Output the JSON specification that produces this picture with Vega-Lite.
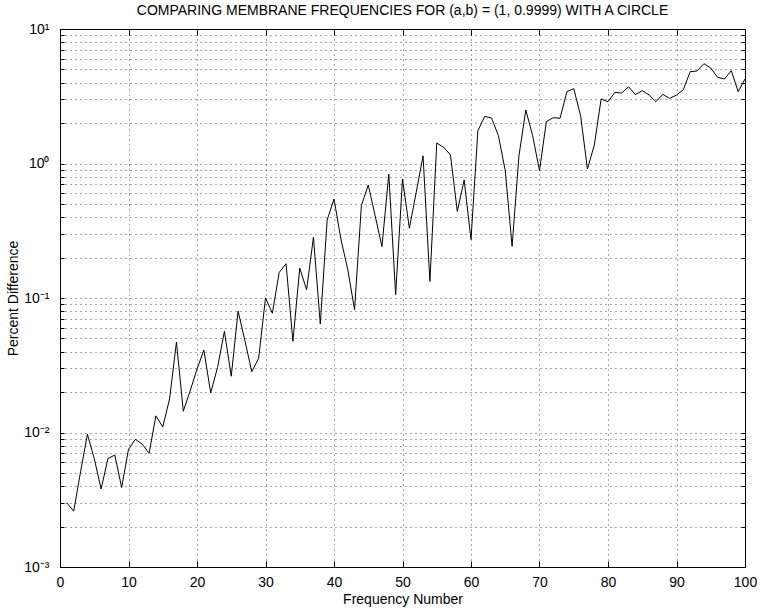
{
  "$schema": "https://vega.github.io/schema/vega-lite/v6.json",
  "width": 685,
  "height": 538,
  "autosize": {"type": "none"},
  "padding": {"left": 60, "top": 29, "right": 17, "bottom": 47},
  "background": "white",
  "title": {"text": "COMPARING MEMBRANE FREQUENCIES FOR (a,b) = (1, 0.9999) WITH A CIRCLE", "font": "Liberation Sans", "fontSize": 14, "fontWeight": "normal", "color": "black", "offset": 4, "anchor": "middle"},
  "config": {
    "view": {"stroke": "black", "strokeWidth": 1},
    "axis": {"labelFont": "Liberation Sans", "titleFont": "Liberation Sans", "labelFontSize": 14, "titleFontSize": 14, "titleFontWeight": "normal", "labelColor": "black", "titleColor": "black", "domain": false, "tickColor": "black", "gridColor": "black", "gridDash": [1, 4], "gridOpacity": 0.7}
  },
  "data": {"values": [
    {"n": 1, "p": 0.0030}, {"n": 2, "p": 0.0026}, {"n": 3, "p": 0.0051}, {"n": 4, "p": 0.0097}, {"n": 5, "p": 0.0064},
    {"n": 6, "p": 0.0038}, {"n": 7, "p": 0.0064}, {"n": 8, "p": 0.0068}, {"n": 9, "p": 0.0039}, {"n": 10, "p": 0.0075},
    {"n": 11, "p": 0.0089}, {"n": 12, "p": 0.0082}, {"n": 13, "p": 0.0070}, {"n": 14, "p": 0.0133}, {"n": 15, "p": 0.0110},
    {"n": 16, "p": 0.0178}, {"n": 17, "p": 0.047}, {"n": 18, "p": 0.0144}, {"n": 19, "p": 0.0204}, {"n": 20, "p": 0.0296},
    {"n": 21, "p": 0.041}, {"n": 22, "p": 0.0197}, {"n": 23, "p": 0.0305}, {"n": 24, "p": 0.0565}, {"n": 25, "p": 0.0262},
    {"n": 26, "p": 0.080}, {"n": 27, "p": 0.048}, {"n": 28, "p": 0.0283}, {"n": 29, "p": 0.0357}, {"n": 30, "p": 0.100},
    {"n": 31, "p": 0.077}, {"n": 32, "p": 0.155}, {"n": 33, "p": 0.180}, {"n": 34, "p": 0.0476}, {"n": 35, "p": 0.167},
    {"n": 36, "p": 0.115}, {"n": 37, "p": 0.283}, {"n": 38, "p": 0.064}, {"n": 39, "p": 0.38}, {"n": 40, "p": 0.545},
    {"n": 41, "p": 0.275}, {"n": 42, "p": 0.164}, {"n": 43, "p": 0.082}, {"n": 44, "p": 0.486}, {"n": 45, "p": 0.692},
    {"n": 46, "p": 0.41}, {"n": 47, "p": 0.241}, {"n": 48, "p": 0.835}, {"n": 49, "p": 0.106}, {"n": 50, "p": 0.767},
    {"n": 51, "p": 0.33}, {"n": 52, "p": 0.61}, {"n": 53, "p": 1.14}, {"n": 54, "p": 0.133}, {"n": 55, "p": 1.42},
    {"n": 56, "p": 1.32}, {"n": 57, "p": 1.16}, {"n": 58, "p": 0.44}, {"n": 59, "p": 0.754}, {"n": 60, "p": 0.272},
    {"n": 61, "p": 1.75}, {"n": 62, "p": 2.24}, {"n": 63, "p": 2.18}, {"n": 64, "p": 1.61}, {"n": 65, "p": 0.885},
    {"n": 66, "p": 0.242}, {"n": 67, "p": 1.14}, {"n": 68, "p": 2.5}, {"n": 69, "p": 1.61}, {"n": 70, "p": 0.885},
    {"n": 71, "p": 2.05}, {"n": 72, "p": 2.19}, {"n": 73, "p": 2.17}, {"n": 74, "p": 3.42}, {"n": 75, "p": 3.6},
    {"n": 76, "p": 2.27}, {"n": 77, "p": 0.91}, {"n": 78, "p": 1.37}, {"n": 79, "p": 3.02}, {"n": 80, "p": 2.88},
    {"n": 81, "p": 3.38}, {"n": 82, "p": 3.34}, {"n": 83, "p": 3.72}, {"n": 84, "p": 3.25}, {"n": 85, "p": 3.48},
    {"n": 86, "p": 3.23}, {"n": 87, "p": 2.88}, {"n": 88, "p": 3.27}, {"n": 89, "p": 3.05}, {"n": 90, "p": 3.23},
    {"n": 91, "p": 3.54}, {"n": 92, "p": 4.82}, {"n": 93, "p": 4.87}, {"n": 94, "p": 5.52}, {"n": 95, "p": 5.13},
    {"n": 96, "p": 4.37}, {"n": 97, "p": 4.25}, {"n": 98, "p": 4.9}, {"n": 99, "p": 3.42}, {"n": 100, "p": 4.25}
  ]},
  "layer": [
    {
      "mark": {"type": "line", "color": "black", "strokeWidth": 1, "clip": true},
      "encoding": {
        "x": {"field": "n", "type": "quantitative", "scale": {"domain": [0, 100], "nice": false},
          "axis": {"orient": "bottom", "title": "Frequency Number", "values": [0,10,20,30,40,50,60,70,80,90,100], "grid": true, "tickSize": -6, "labelPadding": 14, "titlePadding": 3, "labelFlush": false}},
        "y": {"field": "p", "type": "quantitative", "scale": {"type": "log", "domain": [0.001, 10], "nice": false},
          "axis": {"orient": "left", "title": "Percent Difference", "grid": true, "tickSize": -4, "labelPadding": 15, "titlePadding": 3,
            "values": [0.001,0.002,0.003,0.004,0.005,0.006,0.007,0.008,0.009,0.01,0.02,0.03,0.04,0.05,0.06,0.07,0.08,0.09,0.1,0.2,0.3,0.4,0.5,0.6,0.7,0.8,0.9,1,2,3,4,5,6,7,8,9,10],
            "labelExpr": "datum.value==10?'10¹':datum.value==1?'10⁰':datum.value==0.1?'10⁻¹':datum.value==0.01?'10⁻²':datum.value==0.001?'10⁻³':''",
            "labelFlush": false}}
      }
    },
    {
      "mark": {"type": "line", "opacity": 0},
      "encoding": {
        "x": {"field": "n", "type": "quantitative", "scale": {"domain": [0, 100], "nice": false},
          "axis": {"orient": "top", "title": null, "labels": false, "grid": false, "tickSize": -6, "values": [0,10,20,30,40,50,60,70,80,90,100]}},
        "y": {"field": "p", "type": "quantitative", "scale": {"type": "log", "domain": [0.001, 10], "nice": false},
          "axis": {"orient": "right", "title": null, "labels": false, "grid": false, "tickSize": -4,
            "values": [0.001,0.002,0.003,0.004,0.005,0.006,0.007,0.008,0.009,0.01,0.02,0.03,0.04,0.05,0.06,0.07,0.08,0.09,0.1,0.2,0.3,0.4,0.5,0.6,0.7,0.8,0.9,1,2,3,4,5,6,7,8,9,10]}}
      }
    }
  ],
  "resolve": {"axis": {"x": "independent", "y": "independent"}}
}
